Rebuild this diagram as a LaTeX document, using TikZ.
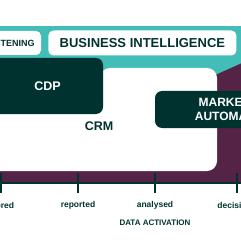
\documentclass[tikz,border=0pt]{standalone}
\usepackage{fontspec}
\setmainfont{Liberation Sans}
\usetikzlibrary{positioning}
\definecolor{bandteal}{HTML}{42BDB8}
\definecolor{deepgreen}{HTML}{00332F}
\definecolor{plum}{HTML}{552345}

\begin{document}
\begin{tikzpicture}[x=1pt, y=-1pt]
\tikzstyle{darkbox} = [rectangle, rounded corners=7pt, fill=deepgreen, text=white, align=center, inner sep=0pt]
\tikzstyle{whitebox} = [rectangle, rounded corners=5pt, fill=white, text=deepgreen, inner sep=0pt]
\tikzstyle{tick} = [deepgreen, line width=1.6pt]
\tikzstyle{stage} = [text=deepgreen, font=\bfseries\fontsize{8.5}{10}\selectfont]

\useasboundingbox (0,0) rectangle (240,240);
\fill[bandteal] (-10,26) rectangle (250,130);
\fill[plum] (-10,120) -- (200,120) -- (200,81.8) -- (260,55) -- (260,183) -- (-10,183) -- cycle;
\fill[white, rounded corners=10pt] (-20,171) -- (-20,100) -- (100,100) -- (100,68) -- (217,68) -- (217,171) -- cycle;

\node (listening) [whitebox, minimum width=61pt, minimum height=24pt, font=\bfseries\fontsize{9}{10}\selectfont] at (10.5,43) {LISTENING};
\node (bi) [whitebox, right=7pt of listening, minimum width=188pt, minimum height=25pt, font=\bfseries\fontsize{13}{15}\selectfont] {BUSINESS INTELLIGENCE};
\node (cdp) [darkbox, minimum width=111pt, minimum height=56pt, font=\bfseries\fontsize{12.5}{15}\selectfont] at (47.5,86) {CDP};
\node (crm) [text=deepgreen, font=\bfseries\fontsize{12.5}{15}\selectfont] at (99,126.5) {CRM};
\node (automation) [darkbox, minimum width=160pt, minimum height=37pt, font=\bfseries\fontsize{12}{14.5}\selectfont] at (235,109.5) {MARKETING\\AUTOMATION};

\coordinate (axisstart) at (-10,183);
\coordinate (axisend) at (250,183);
\draw[deepgreen, line width=2pt] (axisstart) -- (axisend);

\foreach \x/\word [count=\i] in {1/stored, 78/reported, 155/analysed, 237/decisions} {
  \coordinate (tick\i top) at (\x,173);
  \coordinate (tick\i bot) at (\x,193);
  \draw[tick] (tick\i top) -- (tick\i bot);
  \node (stage\i) [stage] at (\x,205) {\word};
}
\node (activation) [stage, font=\bfseries\fontsize{8}{10}\selectfont] at (155,222.5) {DATA ACTIVATION};

\end{tikzpicture}
\end{document}
